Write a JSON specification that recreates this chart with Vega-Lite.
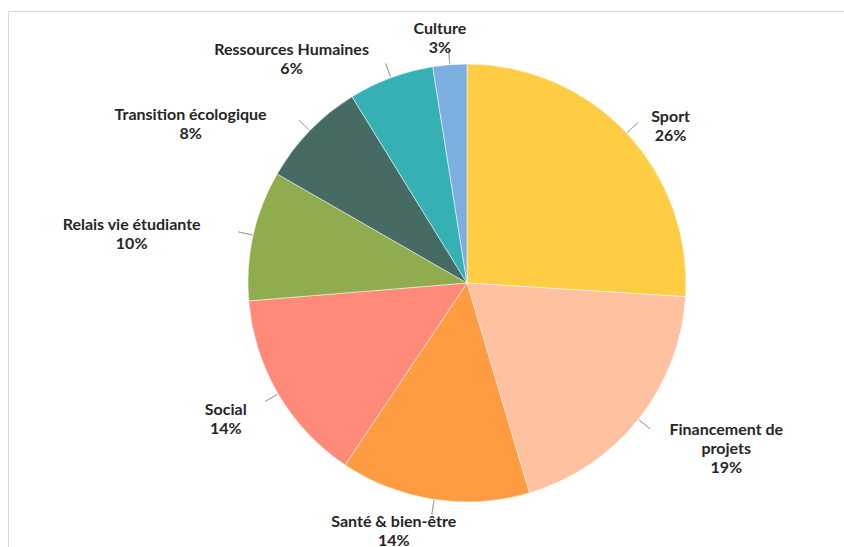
{
  "$schema": "https://vega.github.io/schema/vega-lite/v6.json",
  "width": 918,
  "height": 544,
  "autosize": {"type": "none"},
  "padding": {"left": 8, "top": 11, "right": 0, "bottom": 0},
  "background": "#ffffff",
  "view": {"stroke": "#d9d9d9", "strokeWidth": 1, "fill": "#ffffff"},
  "data": {
    "values": [
      {"cat": "Sport", "share": 26.0},
      {"cat": "Financement de projets", "share": 19.4},
      {"cat": "Santé & bien-être", "share": 14.0},
      {"cat": "Social", "share": 14.3},
      {"cat": "Relais vie étudiante", "share": 9.6},
      {"cat": "Transition écologique", "share": 7.9},
      {"cat": "Ressources Humaines", "share": 6.3},
      {"cat": "Culture", "share": 2.5}
    ]
  },
  "transform": [
    {"stack": "share", "groupby": [], "as": ["s0", "s1"]},
    {"calculate": "(datum.s0 + datum.s1) / 2", "as": "mid"},
    {"calculate": "lastindexof(datum.cat, ' ')", "as": "sp"},
    {"calculate": "length(datum.cat) > 21 ? substring(datum.cat, 0, datum.sp) : datum.cat", "as": "l1"},
    {"calculate": "length(datum.cat) > 21 ? 3 : 2", "as": "nl"},
    {"calculate": "(length(datum.cat) > 21 ? datum.l1 + '|' + substring(datum.cat, datum.sp + 1) : datum.cat) + '|' + format(datum.share / 100, '.0%')", "as": "lab"}
  ],
  "layer": [
    {
      "mark": {"type": "arc", "outerRadius": 219, "stroke": "#ffffff", "strokeWidth": 0.5},
      "encoding": {
        "theta": {"field": "s0", "type": "quantitative", "scale": {"domain": [0, 100], "range": [0, 6.283185]}},
        "theta2": {"field": "s1"},
        "color": {
          "field": "cat",
          "type": "nominal",
          "legend": null,
          "scale": {
            "domain": ["Sport", "Financement de projets", "Santé & bien-être", "Social", "Relais vie étudiante", "Transition écologique", "Ressources Humaines", "Culture"],
            "range": ["#ffcd44", "#ffc19f", "#ff9b40", "#ff8a7a", "#8fad4f", "#466b64", "#35b1b5", "#7daee0"]
          }
        }
      }
    },
    {
      "mark": {"type": "arc", "outerRadius": 234, "innerRadius": 220, "stroke": "#a6a6a6", "strokeWidth": 1, "fill": null},
      "encoding": {
        "theta": {"field": "mid", "type": "quantitative", "stack": null, "scale": {"domain": [0, 100], "range": [0, 6.283185]}},
        "theta2": {"field": "mid"}
      }
    },
    {
      "mark": {
        "type": "text",
        "radius": 247,
        "lineBreak": "|",
        "font": "Lato",
        "fontWeight": "bold",
        "fontSize": 16,
        "lineHeight": 19,
        "color": "#262626",
        "align": "center",
        "baseline": "middle",
        "dx": {"expr": "1.15 * 4.1 * length(datum.l1) * clamp(3 * sin(datum.mid * PI / 50), -1, 1)"},
        "dy": {"expr": "13 * abs(sin(datum.mid * PI / 25)) - (datum.nl - 1) * 9.5"}
      },
      "encoding": {
        "theta": {"field": "mid", "type": "quantitative", "stack": null, "scale": {"domain": [0, 100], "range": [0, 6.283185]}},
        "text": {"field": "lab"}
      }
    }
  ],
  "config": {
    "view": {"stroke": "#d9d9d9", "strokeWidth": 1},
    "style": {"cell": {"stroke": "#d9d9d9"}}
  }
}
